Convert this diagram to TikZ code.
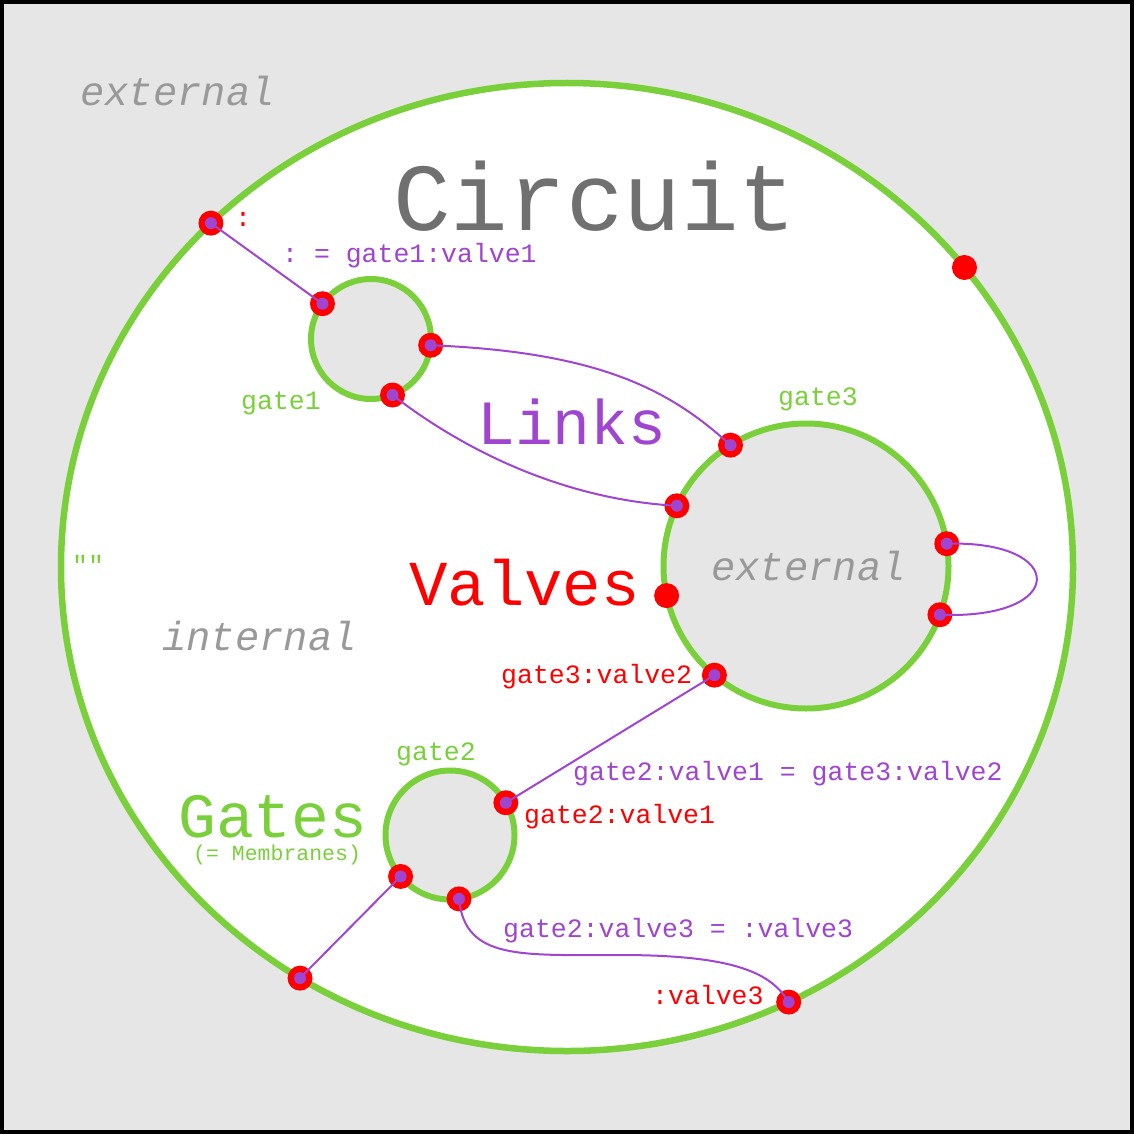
\documentclass[tikz,border=0pt]{standalone}
\usepackage{fontspec}
\setmonofont{Liberation Mono}
\usetikzlibrary{shapes.geometric}
\definecolor{bg}{HTML}{E6E6E6}
\definecolor{gatecol}{HTML}{7AD03A}
\definecolor{linkcol}{HTML}{9F45CF}
\definecolor{valvecol}{HTML}{FF0000}
\definecolor{labelgray}{HTML}{999999}
\definecolor{titlegray}{HTML}{707070}
\tikzset{
    gate/.style={circle, draw=gatecol, fill=bg, line width=6pt, inner sep=0, outer sep=0},
    port/.style={circle, fill=valvecol, minimum size=25pt, inner sep=0},
    valve/.style={port, path picture={\fill[linkcol] (path picture bounding box.center) circle (6pt);}},
    link/.style={draw=linkcol, line width=2pt},
    txt/.style={inner sep=0, anchor=base west, font=\ttfamily\fontsize{#1}{#1}\selectfont},
    txt/.default=26.5
}
\begin{document}
\begin{tikzpicture}[x=1pt, y=-1pt]
        \useasboundingbox (0, 0) rectangle (1134, 1134);
        \draw[line width=4pt, fill=bg] (2, 2) rectangle (1132, 1132);
        \node[ellipse, draw=gatecol, fill=white, line width=6.5pt, minimum width=1012pt, minimum height=968pt, inner sep=0, outer sep=0] (circuit) at (567, 567) {};

        \node[gate, minimum size=120pt] (gate1) at (371, 339) {};
        \node[gate, minimum size=285pt] (gate3) at (806, 566) {};
        \node[gate, minimum size=129pt] (gate2) at (450, 835) {};

        \node[valve] (o1) at (circuit.136) {};
        \node[port] (o2) at (circuit.37) {};
        \node[valve] (o3) at (circuit.-123) {};
        \node[valve] (o4) at (circuit.-63) {};
        \node[valve] (g11) at (gate1.144) {};
        \node[valve] (g12) at (gate1.-6) {};
        \node[valve] (g13) at (gate1.-69) {};
        \node[valve] (g31) at (gate3.122) {};
        \node[valve] (g32) at (gate3.155) {};
        \node[port] (g33) at (gate3.192) {};
        \node[valve] (g34) at (gate3.9) {};
        \node[valve] (g35) at (gate3.-20) {};
        \node[valve] (g36) at (gate3.-130) {};
        \node[valve] (g21) at (gate2.30) {};
        \node[valve] (g22) at (gate2.-140) {};
        \node[valve] (g23) at (gate2.-82) {};

        \draw[link] (o1.center) -- (g11.center);
        \draw[link] (g12.center) .. controls (600, 352) and (670, 390) .. (g31.center);
        \draw[link] (g13.center) .. controls (470, 455) and (570, 500) .. (g32.center);
        \draw[link] (g34.center) .. controls (1068, 540) and (1068, 620) .. (g35.center);
        \draw[link] (g36.center) -- (g21.center);
        \draw[link] (g22.center) -- (o3.center);
        \draw[link] (g23.center) .. controls (465, 960) and (520, 955) .. (620, 955)
            .. controls (740, 955) and (772, 975) .. (o4.center);

        \node[txt=40.5, labelgray] (ext1) at (80, 106) {\itshape external};
        \node[txt=96, titlegray] (title) at (393, 230) {Circuit};
        \node[txt, valvecol] (l0) at (235, 226) {:};
        \node[txt, linkcol] (l1) at (282, 262) {: = gate1:valve1};
        \node[txt, gatecol] (n1) at (241, 409) {gate1};
        \node[txt=63, linkcol] (links) at (477, 444) {Links};
        \node[txt, gatecol] (n3) at (778, 405) {gate3};
        \node[txt=64, valvecol] (valves) at (409, 605) {Valves};
        \node[txt=40.5, labelgray] (ext2) at (711, 580) {\itshape external};
        \node[txt, gatecol] (empty) at (72, 574) {""};
        \node[txt=40.5, labelgray] (int) at (162, 650) {\itshape internal};
        \node[txt, valvecol] (l2) at (501, 683) {gate3:valve2};
        \node[txt, gatecol] (n2) at (396, 760) {gate2};
        \node[txt, linkcol] (l3) at (573, 780) {gate2:valve1 = gate3:valve2};
        \node[txt=63, gatecol] (gates) at (178, 837) {Gates};
        \node[txt=21.5, gatecol] (memb) at (193, 860) {(= Membranes)};
        \node[txt, valvecol] (l4) at (524, 823) {gate2:valve1};
        \node[txt, linkcol] (l5) at (503, 937) {gate2:valve3 = :valve3};
        \node[txt, valvecol] (l6) at (652, 1004) {:valve3};
    \end{tikzpicture}
\end{document}
